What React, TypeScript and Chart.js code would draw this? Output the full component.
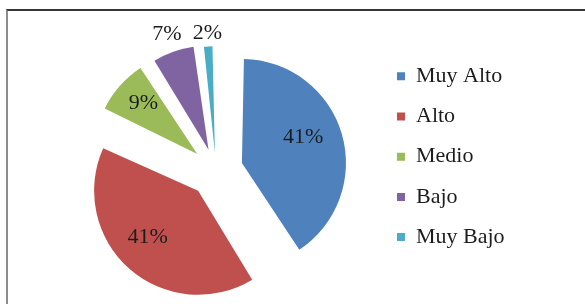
import React, { useEffect, useRef } from 'react';
import { Chart, registerables } from 'chart.js';

Chart.register(...registerables);

const categories = ['Muy Alto', 'Alto', 'Medio', 'Bajo', 'Muy Bajo'];
const values = [41, 41, 9, 7, 2];
const colors = ['#4F81BD', '#C0504D', '#9BBB59', '#8064A2', '#4BACC6'];
const explode = [108, 108, 100, 88, 70];
const labelRadius = [0.64, 0.66, 0.72, 1.18, 1.12];
const labelTurn = [-7, 6, 2, 0, 0];

const FONT = "'Liberation Serif', 'Times New Roman', serif";

const pctLabels = {
  id: 'pctLabels',
  afterDatasetsDraw(chart: any) {
    const ctx = chart.ctx;
    const meta = chart.getDatasetMeta(0);
    ctx.save();
    ctx.font = `22px ${FONT}`;
    ctx.fillStyle = '#1c1c1c';
    ctx.textAlign = 'center';
    ctx.textBaseline = 'middle';
    meta.data.forEach((arc: any, i: number) => {
      const { x, y, startAngle, endAngle, outerRadius } = arc;
      const off = arc.options.offset || 0;
      const circ = endAngle - startAngle;
      const fix = 1 - Math.sin(Math.min(Math.PI, circ));
      const t = off / 4;
      const half = (startAngle + endAngle) / 2;
      const cx = x + Math.cos(half) * t;
      const cy = y + Math.sin(half) * t;
      const visR = outerRadius + (off / 4) * fix;
      const r = labelRadius[i] * visR;
      const a = half + (labelTurn[i] * Math.PI) / 180;
      ctx.fillText(`${values[i]}%`, cx + Math.cos(a) * r, cy + Math.sin(a) * r);
    });
    ctx.restore();
  },
};

export default function App() {
  const ref = useRef<HTMLCanvasElement>(null);
  useEffect(() => {
    if (!ref.current) return;
    const chart = new Chart(ref.current, {
      type: 'pie',
      data: {
        labels: categories,
        datasets: [
          {
            data: values,
            backgroundColor: colors,
            borderWidth: 0,
            offset: explode,
          },
        ],
      },
      options: {
        responsive: false,
        animation: false,
        radius: 91.5,
        layout: { padding: { left: 45.2, right: 70.4, top: 26, bottom: 0 } },
        plugins: {
          tooltip: { enabled: false },
          legend: {
            position: 'right',
            align: 'start',
            title: { display: true, text: '', font: { size: 6, lineHeight: 1 }, padding: { top: 4.1, bottom: 0 } },
            labels: {
              boxWidth: 8,
              boxHeight: 8,
              padding: 18.2,
              color: '#1c1c1c',
              font: { family: FONT, size: 22 },
            },
          },
        },
      } as any,
      plugins: [pctLabels],
    });
    return () => chart.destroy();
  }, []);
  return (
    <div
      style={{
        position: 'absolute',
        left: 6,
        top: 9,
        width: 577,
        height: 293,
        borderTop: '2px solid #363636',
        borderLeft: '2px solid #8c8c8c',
        background: '#fff',
      }}
    >
      <canvas ref={ref} width={577} height={293} style={{ display: 'block', width: 577, height: 293 }} />
    </div>
  );
}
